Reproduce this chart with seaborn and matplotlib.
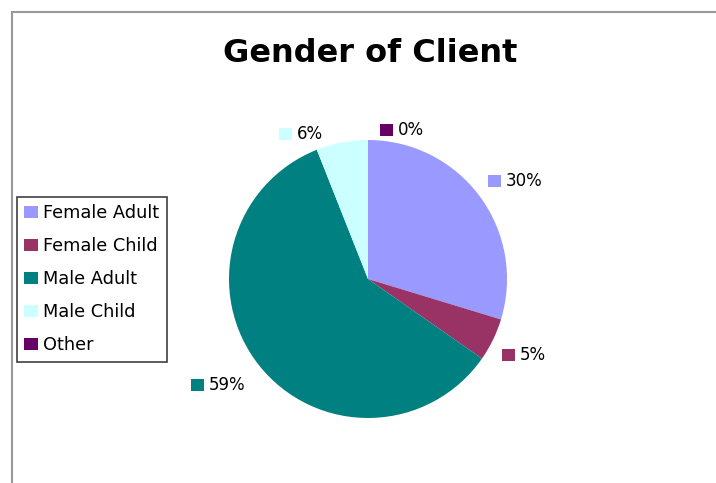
import numpy as np
import matplotlib
matplotlib.use("Agg")
import matplotlib.pyplot as plt
import seaborn as sns
from matplotlib.lines import Line2D
from matplotlib.patches import Rectangle
from matplotlib.offsetbox import DrawingArea, TextArea, HPacker, AnnotationBbox

categories = ["Female Adult", "Female Child", "Male Adult", "Male Child", "Other"]
shares = [29.7, 5.0, 59.3, 6.0, 0.0]
colors = ["#9999FF", "#993366", "#008080", "#CCFFFF", "#660066"]

sns.set_style("white")
plt.rcParams["font.family"] = ["DejaVu Sans"]
plt.rcParams["text.color"] = "black"

W, H = 716, 483
fig = plt.figure(figsize=(W / 100, H / 100), dpi=100)

# pie axes in units of the radius
R = 139
cx, cy = 368, 279
ax = fig.add_axes([0, 0, 1, 1])
wedges, _ = ax.pie(shares, colors=sns.color_palette(colors), startangle=90,
                   counterclock=False, radius=1, center=(0, 0),
                   wedgeprops=dict(linewidth=0))
ax.set_xlim(-cx / R, (W - cx) / R)
ax.set_ylim(-(H - cy) / R, cy / R)
ax.set_aspect("equal")
ax.axis("off")

# percentage labels with a coloured square
label_r = [1.27, 1.25, 1.32, 1.15, 1.10]
nudge = [-3, 0, -3, 14, -13]
total = sum(shares)
for w, s, c, r, n in zip(wedges, shares, colors, label_r, nudge):
    mid = np.deg2rad((w.theta1 + w.theta2) / 2 + n)
    lx, ly = r * np.cos(mid), r * np.sin(mid)
    sq = DrawingArea(9.4, 8.6, 0, 0)
    sq.add_artist(Rectangle((0, 0), 9.4, 8.6, facecolor=c, edgecolor="none"))
    txt = TextArea(f"{round(s / total * 100):.0f}%",
                   textprops=dict(fontsize=12, color="black"))
    box = HPacker(children=[sq, txt], sep=3.6, pad=0, align="center")
    ax.add_artist(AnnotationBbox(box, (lx, ly), frameon=False,
                                 box_alignment=(0.5, 0.5), pad=0))

# legend
leg = ax.legend(wedges, categories, loc="upper left",
                bbox_to_anchor=(17 / W, 1 - 197 / H),
                bbox_transform=fig.transFigure, borderaxespad=0,
                fontsize=12.8, frameon=True, fancybox=False, framealpha=1,
                edgecolor="#404040", handlelength=0.74, handleheight=0.68,
                handletextpad=0.3, labelspacing=0.84, borderpad=0.42)
leg.get_frame().set_linewidth(1.2)
for t in leg.get_texts():
    t.set_color("black")

# title
fig.text(370 / W, 1 - 54 / H, "Gender of Client", ha="center", va="center",
         fontsize=23, fontweight="bold", color="black", family=["DejaVu Sans"])

# grey outer frame
fig.add_artist(Line2D([12 / W, 12 / W], [0, 1 - 12 / H], transform=fig.transFigure,
                      color="#999999", linewidth=1.5))
fig.add_artist(Line2D([12 / W, 1], [1 - 12 / H, 1 - 12 / H], transform=fig.transFigure,
                      color="#999999", linewidth=1.5))

fig.savefig("out.png", dpi=100)
